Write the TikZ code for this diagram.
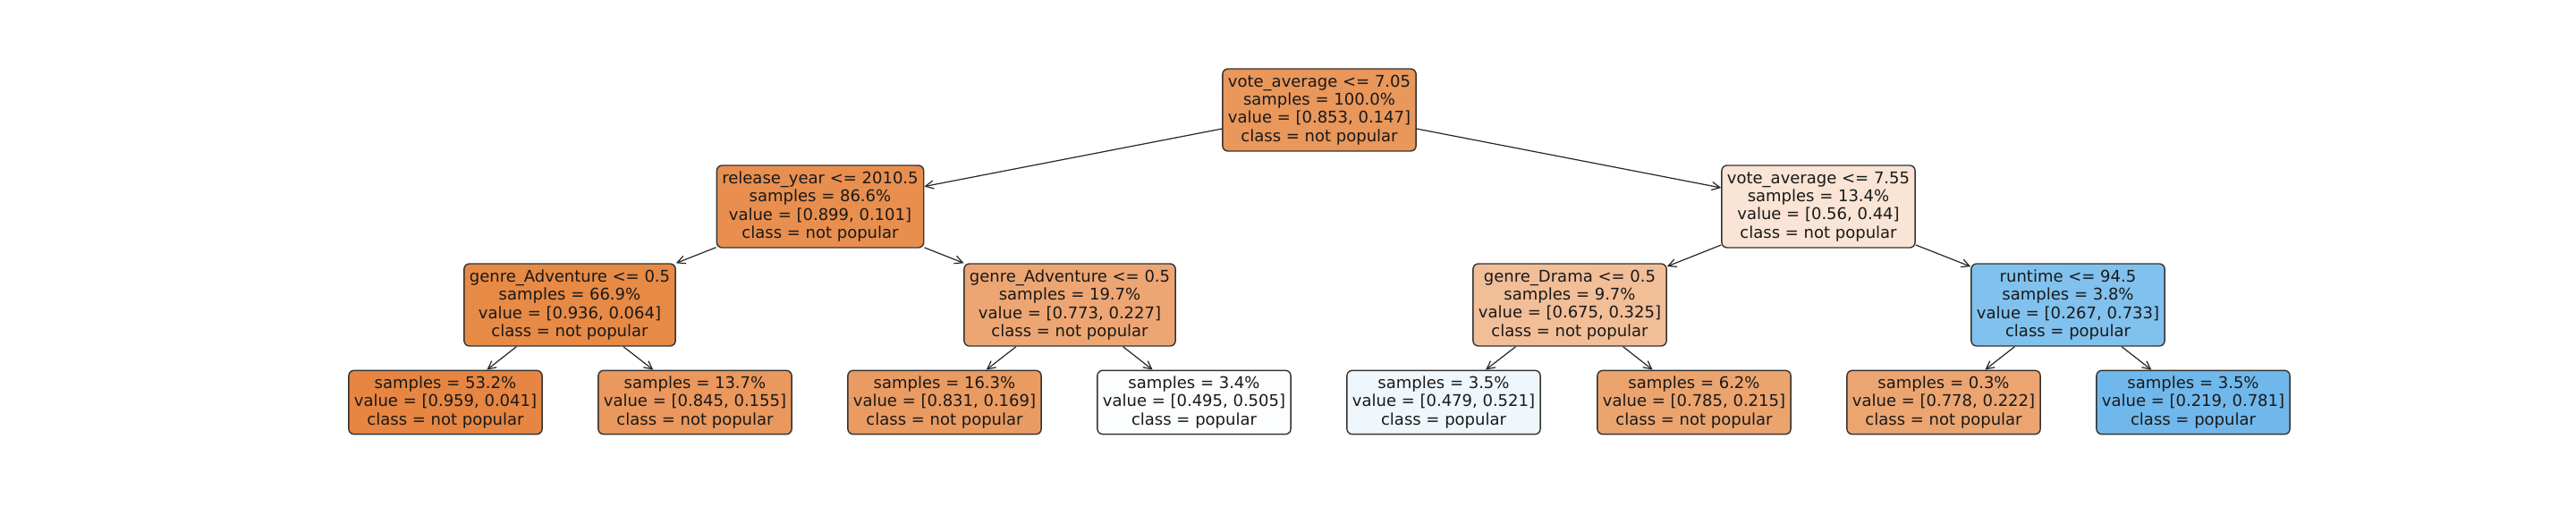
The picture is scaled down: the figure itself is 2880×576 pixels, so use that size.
\documentclass[tikz,border=0pt]{standalone}
\usepackage{fontspec}
\setmainfont{DejaVu Sans}
\usetikzlibrary{arrows.meta}
\definecolor{skor}{RGB}{229,129,57}
\definecolor{skbl}{RGB}{57,157,229}
\tikzset{
  tn/.style={draw=black!80, line width=0.7pt, rounded corners=3pt, align=center,
    inner xsep=3pt, font=\fontsize{9pt}{10.15pt}\selectfont, text=black!90},
  n4/.style={tn, minimum height=46pt},
  n3/.style={tn, minimum height=35pt},
  edge/.style={line width=0.6pt, black!85, -{Straight Barb[length=4.5pt,width=4.5pt]}}
}
\begin{document}
\begin{tikzpicture}[x=0.5pt,y=-0.5pt]
\useasboundingbox (0,0) rectangle (2880,576);
\node[n4, fill=skor!82.8!white] (root) at (1475,123) {vote\_average <= 7.05\\samples = 100.0\%\\value = [0.853, 0.147]\\class = not popular};
\node[n4, fill=skor!88.8!white] (A) at (917,231) {release\_year <= 2010.5\\samples = 86.6\%\\value = [0.899, 0.101]\\class = not popular};
\node[n4, fill=skor!21.4!white] (B) at (2033,231) {vote\_average <= 7.55\\samples = 13.4\%\\value = [0.56, 0.44]\\class = not popular};
\node[n4, fill=skor!93.2!white] (A1) at (637,341) {genre\_Adventure <= 0.5\\samples = 66.9\%\\value = [0.936, 0.064]\\class = not popular};
\node[n4, fill=skor!70.6!white] (A2) at (1196,341) {genre\_Adventure <= 0.5\\samples = 19.7\%\\value = [0.773, 0.227]\\class = not popular};
\node[n4, fill=skor!51.9!white] (B1) at (1755,341) {genre\_Drama <= 0.5\\samples = 9.7\%\\value = [0.675, 0.325]\\class = not popular};
\node[n4, fill=skbl!63.6!white] (B2) at (2312,341) {runtime <= 94.5\\samples = 3.8\%\\value = [0.267, 0.733]\\class = popular};
\node[n3, fill=skor!95.7!white] (L1) at (498,450) {samples = 53.2\%\\value = [0.959, 0.041]\\class = not popular};
\node[n3, fill=skor!81.7!white] (L2) at (777,450) {samples = 13.7\%\\value = [0.845, 0.155]\\class = not popular};
\node[n3, fill=skor!79.7!white] (L3) at (1056,450) {samples = 16.3\%\\value = [0.831, 0.169]\\class = not popular};
\node[n3, fill=skbl!2!white] (L4) at (1335,450) {samples = 3.4\%\\value = [0.495, 0.505]\\class = popular};
\node[n3, fill=skbl!8.1!white] (L5) at (1614,450) {samples = 3.5\%\\value = [0.479, 0.521]\\class = popular};
\node[n3, fill=skor!72.6!white] (L6) at (1894,450) {samples = 6.2\%\\value = [0.785, 0.215]\\class = not popular};
\node[n3, fill=skor!71.5!white] (L7) at (2173,450) {samples = 0.3\%\\value = [0.778, 0.222]\\class = not popular};
\node[n3, fill=skbl!72!white] (L8) at (2452,450) {samples = 3.5\%\\value = [0.219, 0.781]\\class = popular};
\draw[edge] (root) -- (A);
\draw[edge] (root) -- (B);
\draw[edge] (A) -- (A1);
\draw[edge] (A) -- (A2);
\draw[edge] (B) -- (B1);
\draw[edge] (B) -- (B2);
\draw[edge] (A1) -- (L1);
\draw[edge] (A1) -- (L2);
\draw[edge] (A2) -- (L3);
\draw[edge] (A2) -- (L4);
\draw[edge] (B1) -- (L5);
\draw[edge] (B1) -- (L6);
\draw[edge] (B2) -- (L7);
\draw[edge] (B2) -- (L8);
\end{tikzpicture}
\end{document}
